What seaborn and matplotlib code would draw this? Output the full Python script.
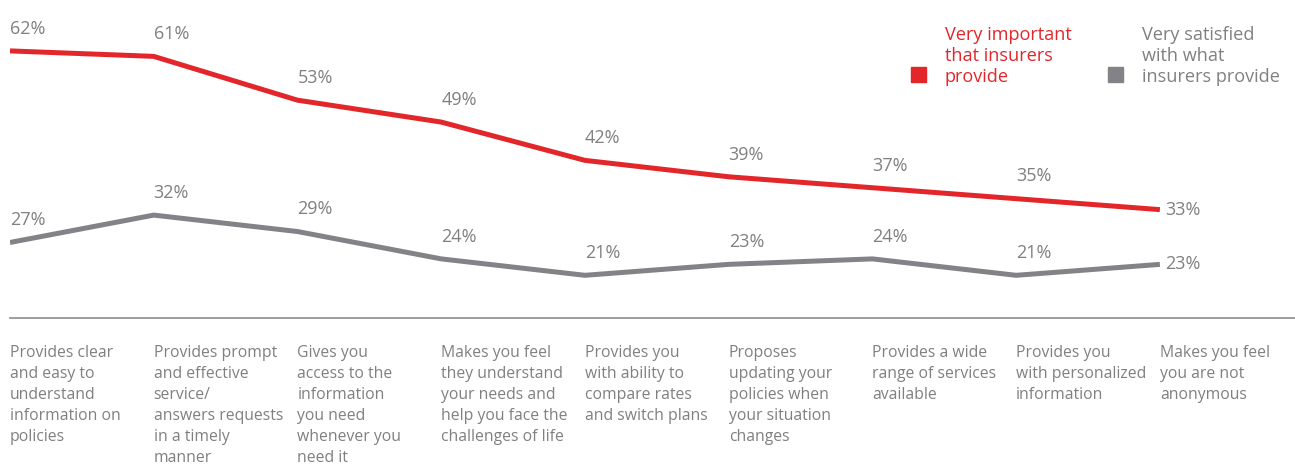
import matplotlib
matplotlib.use("Agg")
import matplotlib.pyplot as plt
from matplotlib.patches import Rectangle
import pandas as pd
import seaborn as sns

# Survey attributes, in the order shown along the axis
categories = [
    "Provides clear\nand easy to\nunderstand\ninformation on\npolicies",
    "Provides prompt\nand effective\nservice/\nanswers requests\nin a timely\nmanner",
    "Gives you\naccess to the\ninformation\nyou need\nwhenever you\nneed it",
    "Makes you feel\nthey understand\nyour needs and\nhelp you face the\nchallenges of life",
    "Provides you\nwith ability to\ncompare rates\nand switch plans",
    "Proposes\nupdating your\npolicies when\nyour situation\nchanges",
    "Provides a wide\nrange of services\navailable",
    "Provides you\nwith personalized\ninformation",
    "Makes you feel\nyou are not\nanonymous",
]
important = [62, 61, 53, 49, 42, 39, 37, 35, 33]
satisfied = [27, 32, 29, 24, 21, 23, 24, 21, 23]
series_names = ["Very important\nthat insurers\nprovide",
                "Very satisfied\nwith what\ninsurers provide"]

RED = "#E3262A"
GREY = "#838387"
TEXT_GREY = "#808080"

sns.set_theme(style="white")
plt.rcParams["font.family"] = ["Open Sans", "DejaVu Sans"]

df = pd.DataFrame({
    "pos": list(range(len(categories))) * 2,
    "value": important + satisfied,
    "series": [series_names[0]] * len(important) + [series_names[1]] * len(satisfied),
})

W, H = 1295, 466
fig = plt.figure(figsize=(W / 100, H / 100), dpi=100)
ax = fig.add_axes([10 / W, 1 - 318 / H, 1 - 10 / W, 318 / H])

sns.lineplot(data=df, x="pos", y="value", hue="series",
             palette={series_names[0]: RED, series_names[1]: GREY},
             linewidth=3.6, legend=False, ax=ax, sort=False)
for ln in ax.lines:
    ln.set_solid_joinstyle("miter")
    ln.set_solid_capstyle("butt")

ax.set_xlim(0, 8.94)
ax.set_ylim(13.2, 71.3)
ax.set_xlabel("")
ax.set_ylabel("")
ax.set_yticks([])
for s in ["top", "left", "right"]:
    ax.spines[s].set_visible(False)
ax.spines["bottom"].set_color("#8c8c8c")
ax.spines["bottom"].set_linewidth(1.2)

ax.set_xticks(range(len(categories)))
ax.set_xticklabels(categories, ha="left", va="top", fontsize=11.3,
                   color=TEXT_GREY, linespacing=1.42)
ax.tick_params(axis="x", length=0, pad=19.5)

# value labels
last = len(categories) - 1
for vals in (important, satisfied):
    for i, v in enumerate(vals):
        if i == last:
            ax.annotate(f"{v}%", (i, v), xytext=(4, 0), textcoords="offset points",
                        ha="left", va="center", fontsize=13, color=TEXT_GREY)
        else:
            ax.annotate(f"{v}%", (i, v), xytext=(0, 16), textcoords="offset points",
                        ha="left", va="center", fontsize=13, color=TEXT_GREY)

# legend
def fx(x):
    return x / W

def fy(y):
    return 1 - y / H

for sq_x, txt_x, color, label in [(911, 945, RED, series_names[0]),
                                   (1108, 1142, GREY, series_names[1])]:
    fig.patches.append(Rectangle((fx(sq_x), fy(82)), 15 / W, 15 / H,
                                 transform=fig.transFigure, color=color))
    fig.text(fx(txt_x), fy(86), label, ha="left", va="bottom", fontsize=13.1,
             color=RED if color == RED else TEXT_GREY, linespacing=1.2)

fig.savefig("out.png", dpi=100)
